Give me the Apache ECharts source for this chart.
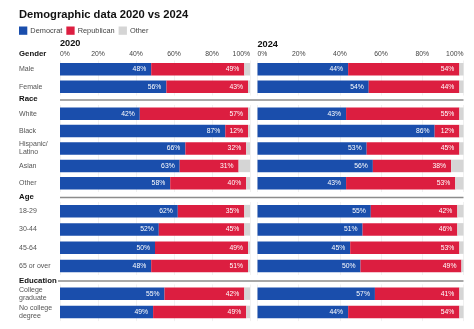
<!DOCTYPE html>
<html><head><meta charset="utf-8">
<script src="https://cdn.jsdelivr.net/npm/echarts@6/dist/echarts.min.js"></script>
<style>html,body{margin:0;padding:0;background:#fff}#c{width:474px;height:329px}</style>
</head><body><div id="c"></div>
<script>
const groups = ['Gender', 'Race', 'Age', 'Education'];
const groupRows = [
  ['Male', 'Female'],
  ['White', 'Black', 'Hispanic/\nLatino', 'Asian', 'Other'],
  ['18-29', '30-44', '45-64', '65 or over'],
  ['College\ngraduate', 'No college\ndegree']
];
const years = ['2020', '2024'];
const tickLabels = ['0%', '20%', '40%', '60%', '80%', '100%'];
const seriesNames = ['Democrat', 'Republican', 'Other'];
// values in row order: Male, Female, White, Black, Hispanic, Asian, Other, 18-29, 30-44, 45-64, 65+, College, No college
const dem2020 = [48, 56, 42, 87, 66, 63, 58, 62, 52, 50, 48, 55, 49];
const rep2020 = [49, 43, 57, 12, 32, 31, 40, 35, 45, 49, 51, 42, 49];
const oth2020 = [3, 1, 1, 1, 2, 6, 2, 3, 3, 1, 1, 3, 2];
const dem2024 = [44, 54, 43, 86, 53, 56, 43, 55, 51, 45, 50, 57, 44];
const rep2024 = [54, 44, 55, 12, 45, 38, 53, 42, 46, 53, 49, 41, 54];
const oth2024 = [2, 2, 2, 2, 2, 6, 4, 3, 3, 2, 1, 2, 2];

const colors = ['#1a4eac', '#dc1e40', '#d5d5d5'];
const FONT = '"Liberation Sans", Arial, Helvetica, sans-serif';

// layout (pixels)
const panelX = [{left: 60, width: 190}, {left: 257.5, width: 206}];
const groupBox = [{top: 60.5, height: 35}, {top: 105, height: 87}, {top: 202, height: 73}, {top: 284.5, height: 36.6}];

const yearData = [[dem2020, rep2020, oth2020], [dem2024, rep2024, oth2024]];

const grid = [], xAxis = [], yAxis = [], series = [];
let gi = 0;
for (let p = 0; p < 2; p++) {
  let offset = 0;
  for (let g = 0; g < groups.length; g++) {
    const rows = groupRows[g];
    grid.push({left: panelX[p].left, width: panelX[p].width, top: groupBox[g].top, height: groupBox[g].height});
    xAxis.push({
      type: 'value', gridIndex: gi, min: 0, max: 100, interval: 20, position: 'top',
      axisLine: {show: false}, axisTick: {show: false},
      splitLine: {show: true, lineStyle: {color: '#f1f1f1', width: 1}},
      axisLabel: {
        show: g === 0, margin: 3, fontSize: 6.8, color: '#444', fontFamily: FONT,
        alignMinLabel: 'left', alignMaxLabel: 'right',
        formatter: v => tickLabels[v / 20]
      }
    });
    yAxis.push({
      type: 'category', gridIndex: gi, data: rows, inverse: true,
      axisLine: {show: false}, axisTick: {show: false}, splitLine: {show: false},
      axisLabel: {show: p === 0, align: 'left', margin: 41, fontSize: 7, lineHeight: 8, color: '#555', fontFamily: FONT}
    });
    for (let s = 0; s < 3; s++) {
      series.push({
        name: seriesNames[s], type: 'bar', xAxisIndex: gi, yAxisIndex: gi, stack: 'st' + gi,
        barWidth: 12.5, itemStyle: {color: colors[s]}, silent: true, animation: false,
        data: yearData[p][s].slice(offset, offset + rows.length),
        label: {
          show: s < 2, position: 'insideRight', distance: 5, color: '#fff', fontSize: 6.8, fontFamily: FONT,
          formatter: '{c}%'
        }
      });
    }
    offset += rows.length;
    gi++;
  }
}

const sepY = [null, 100, 197.5, 281];
const sepX0 = [null, 60, 60, 58];
const graphic = [
  {type: 'text', left: 60, top: 39, style: {text: years[0], font: 'bold 9.2px ' + FONT, fill: '#111'}},
  {type: 'text', left: 257.5, top: 39.5, style: {text: years[1], font: 'bold 9.2px ' + FONT, fill: '#111'}}
];
const groupLabelY = [50, 95, 193, 277];
for (let g = 0; g < groups.length; g++) {
  graphic.push({type: 'text', left: 19, top: groupLabelY[g], style: {text: groups[g], font: 'bold 7.8px ' + FONT, fill: '#111'}});
  if (sepY[g] !== null) {
    graphic.push({type: 'line', shape: {x1: sepX0[g], y1: sepY[g], x2: 463.5, y2: sepY[g]}, style: {stroke: '#8c8c8c', lineWidth: 1.3}});
  }
}

const chart = echarts.init(document.getElementById('c'), null, {renderer: 'canvas'});
chart.setOption({
  animation: false,
  backgroundColor: '#fff',
  title: {text: 'Demographic data 2020 vs 2024', left: 14, top: 4, textStyle: {fontSize: 11.2, fontWeight: 'bold', color: '#111', fontFamily: FONT}},
  legend: {
    left: 14, top: 21.5, itemWidth: 8.3, itemHeight: 8.3, itemGap: 4, icon: 'rect',
    data: seriesNames, textStyle: {fontSize: 7.4, color: '#444', fontFamily: FONT, padding: [0, 0, 0, -2]}
  },
  grid, xAxis, yAxis, series, graphic
});
</script>
</body></html>
